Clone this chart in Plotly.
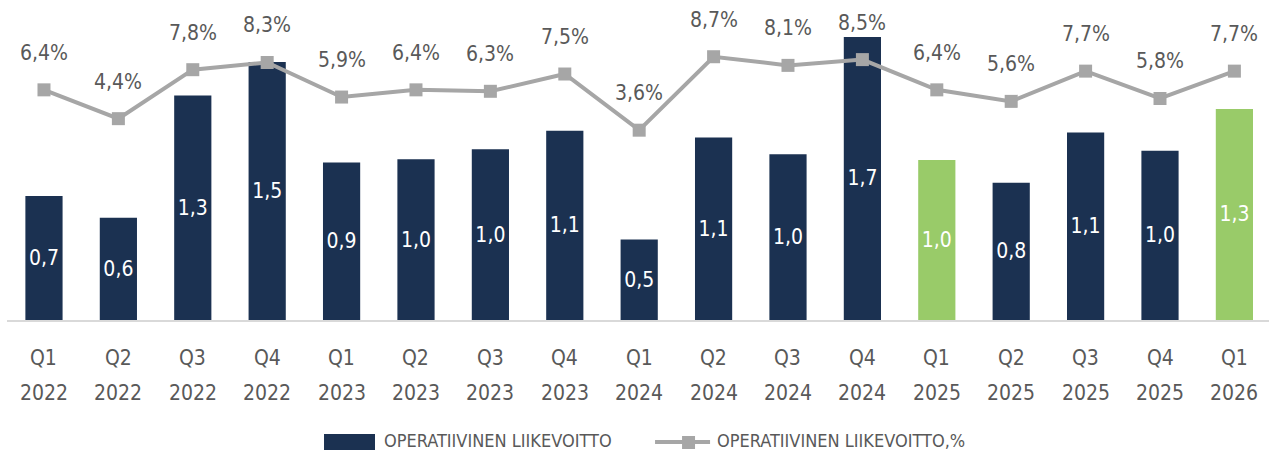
import plotly.graph_objects as go

quarters = ["Q1", "Q2", "Q3", "Q4", "Q1", "Q2", "Q3", "Q4", "Q1", "Q2", "Q3", "Q4",
            "Q1", "Q2", "Q3", "Q4", "Q1"]
years = ["2022", "2022", "2022", "2022", "2023", "2023", "2023", "2023",
         "2024", "2024", "2024", "2024", "2025", "2025", "2025", "2025", "2026"]
profit = [0.74, 0.61, 1.34, 1.54, 0.94, 0.96, 1.02, 1.13, 0.48, 1.09, 0.99, 1.69,
          0.955, 0.82, 1.12, 1.01, 1.26]
profit_labels = ["0,7", "0,6", "1,3", "1,5", "0,9", "1,0", "1,0", "1,1", "0,5", "1,1",
                 "1,0", "1,7", "1,0", "0,8", "1,1", "1,0", "1,3"]
margin_pct = [6.4, 4.4, 7.8, 8.3, 5.9, 6.4, 6.3, 7.5, 3.6, 8.7, 8.1, 8.5, 6.4, 5.6,
              7.7, 5.8, 7.7]
highlight = [False] * 12 + [True, False, False, False, True]
series_names = ["OPERATIIVINEN LIIKEVOITTO", "OPERATIIVINEN LIIKEVOITTO,%"]

NAVY = "#1B3151"
GREEN = "#99CB69"
GRAY_LINE = "#A6A6A6"
TEXT_GRAY = "#595959"
FONT = "DejaVu Sans Condensed, Liberation Sans Narrow, Arial Narrow, sans-serif"

x = list(range(len(quarters)))
bar_colors = [GREEN if h else NAVY for h in highlight]

fig = go.Figure()
fig.add_trace(go.Bar(
    x=x, y=profit, name=series_names[0], showlegend=False,
    marker=dict(color=bar_colors, line=dict(width=0)),
    width=0.5,
    text=profit_labels, textposition="inside", insidetextanchor="middle",
    textangle=0,
    textfont=dict(color="white", size=21, family=FONT),
    yaxis="y",
))
fig.add_trace(go.Scatter(
    x=x, y=margin_pct, name=series_names[1], showlegend=False,
    mode="lines+markers",
    line=dict(color=GRAY_LINE, width=4),
    marker=dict(symbol="square", size=13, color=GRAY_LINE),
    yaxis="y2",
))

annotations = []
for i, v in enumerate(margin_pct):
    annotations.append(dict(
        x=i, y=v, xref="x", yref="y2", text=f"{v:.1f}".replace(".", ",") + "%",
        showarrow=False, yanchor="middle", yshift=37,
        font=dict(size=21, color=TEXT_GRAY, family=FONT),
    ))
for i, (q, yr) in enumerate(zip(quarters, years)):
    annotations.append(dict(
        x=i, y=0, xref="x", yref="paper", text=q, showarrow=False,
        yanchor="middle", yshift=-38, font=dict(size=21, color=TEXT_GRAY, family=FONT)))
    annotations.append(dict(
        x=i, y=0, xref="x", yref="paper", text=yr, showarrow=False,
        yanchor="middle", yshift=-73, font=dict(size=21, color=TEXT_GRAY, family=FONT)))

# custom legend (swatches + labels) below the plot
legend_font = dict(size=18, color=TEXT_GRAY, family=FONT)
annotations.append(dict(x=0.2971, y=-0.4, xref="paper", yref="paper", text=series_names[0],
                        showarrow=False, xanchor="left", yanchor="middle", font=legend_font))
annotations.append(dict(x=0.5610, y=-0.4, xref="paper", yref="paper", text=series_names[1],
                        showarrow=False, xanchor="left", yanchor="middle", font=legend_font))
shapes = [
    dict(type="rect", xref="paper", yref="paper", x0=0.2512, x1=0.2916, y0=-0.4333, y1=-0.38,
         fillcolor=NAVY, line=dict(width=0)),
    dict(type="line", xref="paper", yref="paper", x0=0.5135, x1=0.5571, y0=-0.4067, y1=-0.4067,
         line=dict(color=GRAY_LINE, width=4)),
    dict(type="rect", xref="paper", yref="paper", x0=0.5349, x1=0.5452, y0=-0.43, y1=-0.3867,
         fillcolor=GRAY_LINE, line=dict(width=0)),
]

fig.update_layout(
    width=1269, height=454,
    margin=dict(l=7, r=0, t=20, b=134),
    plot_bgcolor="white", paper_bgcolor="white",
    font=dict(family=FONT, color=TEXT_GRAY),
    showlegend=False,
    xaxis=dict(range=[-0.497, 16.465], showticklabels=False, showgrid=False, zeroline=False,
               showline=True, linecolor="#D9D9D9", linewidth=2, ticks=""),
    yaxis=dict(range=[0, 1.791], visible=False, showgrid=False, zeroline=False),
    yaxis2=dict(range=[-9.58, 11.25], overlaying="y", visible=False, showgrid=False,
                zeroline=False),
    annotations=annotations,
    shapes=shapes,
)

fig.write_html("out.html", config={"displayModeBar": False},
               post_script="document.body.style.margin='0px';"
                           "document.body.style.overflow='hidden';")
